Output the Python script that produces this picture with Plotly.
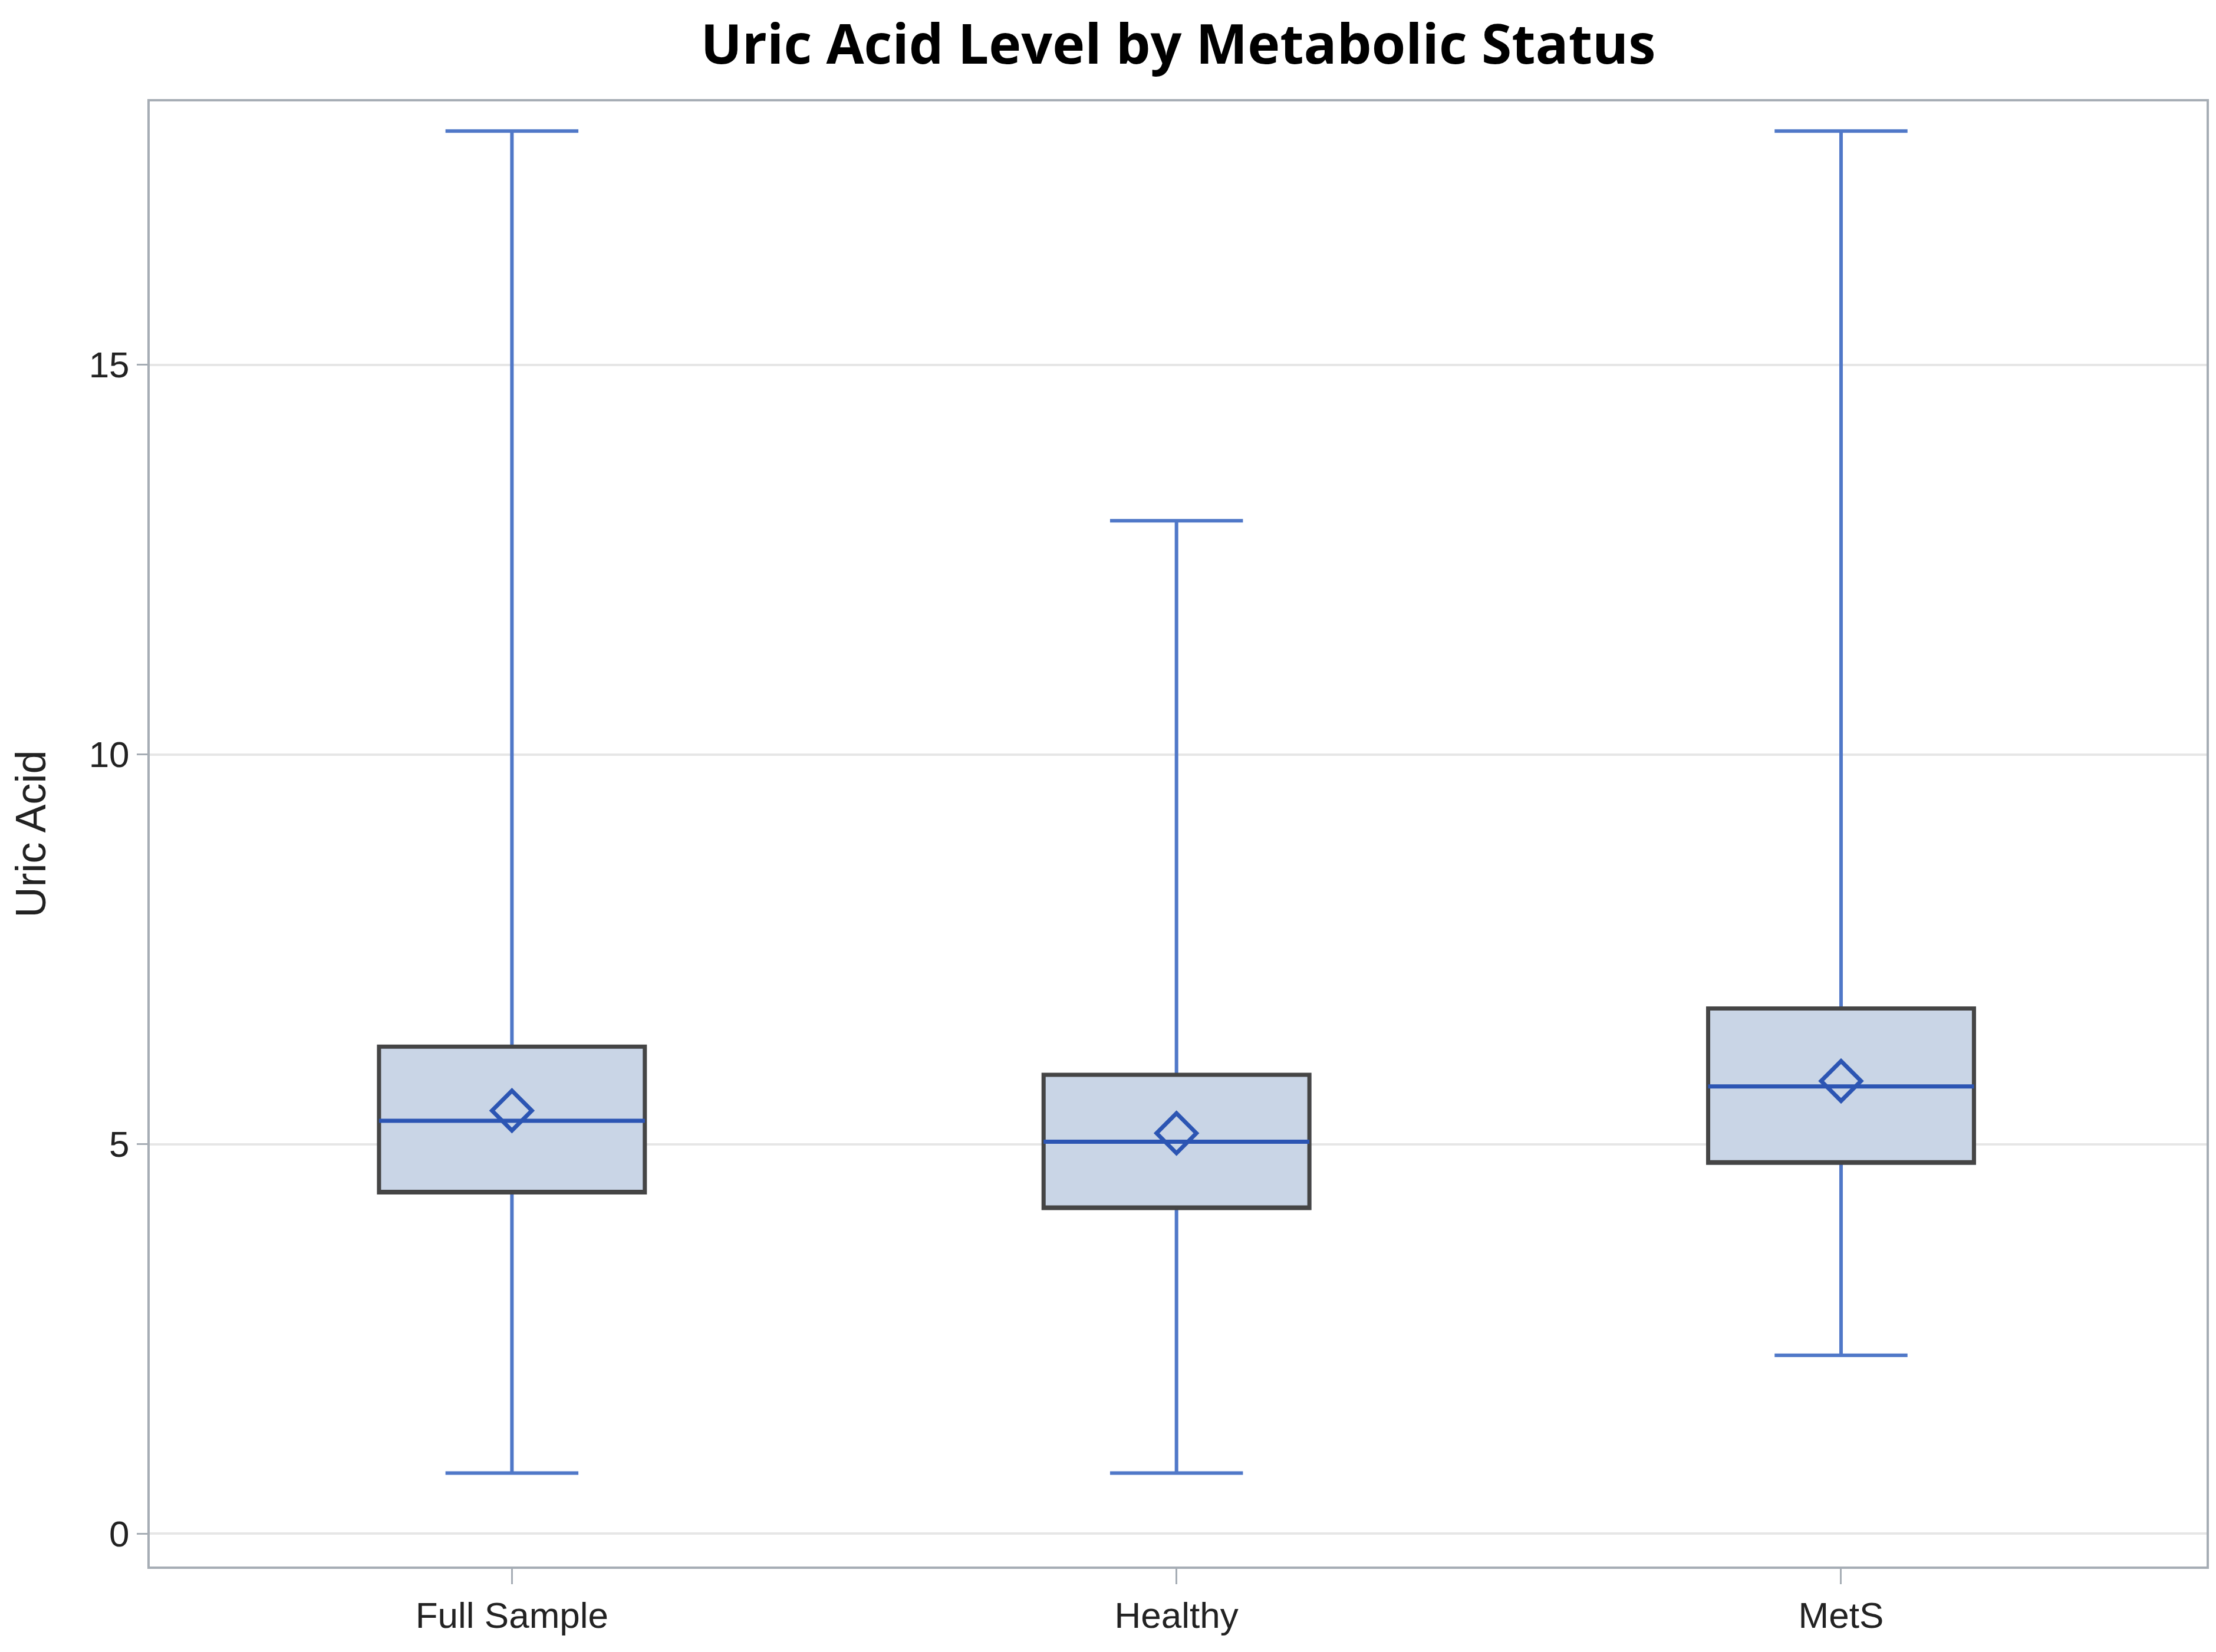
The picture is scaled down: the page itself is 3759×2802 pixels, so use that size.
import plotly.graph_objects as go

categories = ["Full Sample", "Healthy", "MetS"]
lower_whisker = [0.78, 0.78, 2.29]
q1_values = [4.38, 4.18, 4.76]
median_values = [5.30, 5.03, 5.74]
mean_values = [5.43, 5.14, 5.81]
q3_values = [6.25, 5.89, 6.74]
upper_whisker = [18.0, 13.0, 18.0]
y_tick_values = [0, 5, 10, 15]

WHISKER_BLUE = "#5078c8"
MEAN_BLUE = "#2c55b3"
BOX_FILL = "#c9d5e6"
BOX_EDGE = "#454545"
FRAME = "#a6adb5"

fig = go.Figure()

# blue whiskers, caps and filled box
fig.add_trace(go.Box(
    x=categories, q1=q1_values, median=median_values, q3=q3_values,
    lowerfence=lower_whisker, upperfence=upper_whisker,
    fillcolor=BOX_FILL, line=dict(color=WHISKER_BLUE, width=6),
    whiskerwidth=0.5, width=0.4, boxpoints=False, showlegend=False,
    hoverinfo="skip",
))
# dark box outline on top
fig.add_trace(go.Box(
    x=categories, q1=q1_values, median=q1_values, q3=q3_values,
    lowerfence=q1_values, upperfence=q3_values,
    fillcolor="rgba(0,0,0,0)", line=dict(color=BOX_EDGE, width=7),
    whiskerwidth=0, width=0.4, boxpoints=False, showlegend=False,
    hoverinfo="skip",
))
# median line in darker blue above the outline trace
fig.add_trace(go.Box(
    x=categories, q1=median_values, median=median_values, q3=median_values,
    lowerfence=median_values, upperfence=median_values,
    fillcolor="rgba(0,0,0,0)", line=dict(color=MEAN_BLUE, width=7),
    whiskerwidth=0, width=0.4, boxpoints=False, showlegend=False,
    hoverinfo="skip",
))
fig.add_trace(go.Scatter(
    x=categories, y=mean_values, mode="markers",
    marker=dict(symbol="diamond-open", size=52, color=MEAN_BLUE,
                line=dict(color=MEAN_BLUE, width=7)),
    showlegend=False, hoverinfo="skip",
))

fig.update_layout(
    width=3759, height=2802,
    paper_bgcolor="white", plot_bgcolor="white",
    boxmode="overlay",
    margin=dict(l=246, r=24, t=164, b=153),
    title=dict(text="<b>Uric Acid Level by Metabolic Status</b>",
               xref="paper", x=0.5, xanchor="center",
               yref="container", y=0.976, yanchor="middle",
               font=dict(family="Open Sans", size=93, color="black")),
    font=dict(family="Liberation Sans, Arial", color="#222222"),
)
fig.update_xaxes(
    type="category", range=[-0.545, 2.55],
    showline=True, linecolor=FRAME, linewidth=4, mirror=True,
    ticks="outside", ticklen=26, tickwidth=3, tickcolor=FRAME,
    tickfont=dict(size=62, color="#222222"), showgrid=False,
)
fig.update_yaxes(
    range=[-0.42, 18.38], tickvals=y_tick_values,
    showline=True, linecolor=FRAME, linewidth=4, mirror=True,
    ticks="outside", ticklen=18, tickwidth=3, tickcolor=FRAME,
    tickfont=dict(size=62, color="#222222"),
    showgrid=True, gridcolor="#e6e6e6", gridwidth=4, zeroline=False,
    title=dict(text="Uric Acid", font=dict(size=72, color="#222222"), standoff=50),
)

fig.write_html("out.html")
